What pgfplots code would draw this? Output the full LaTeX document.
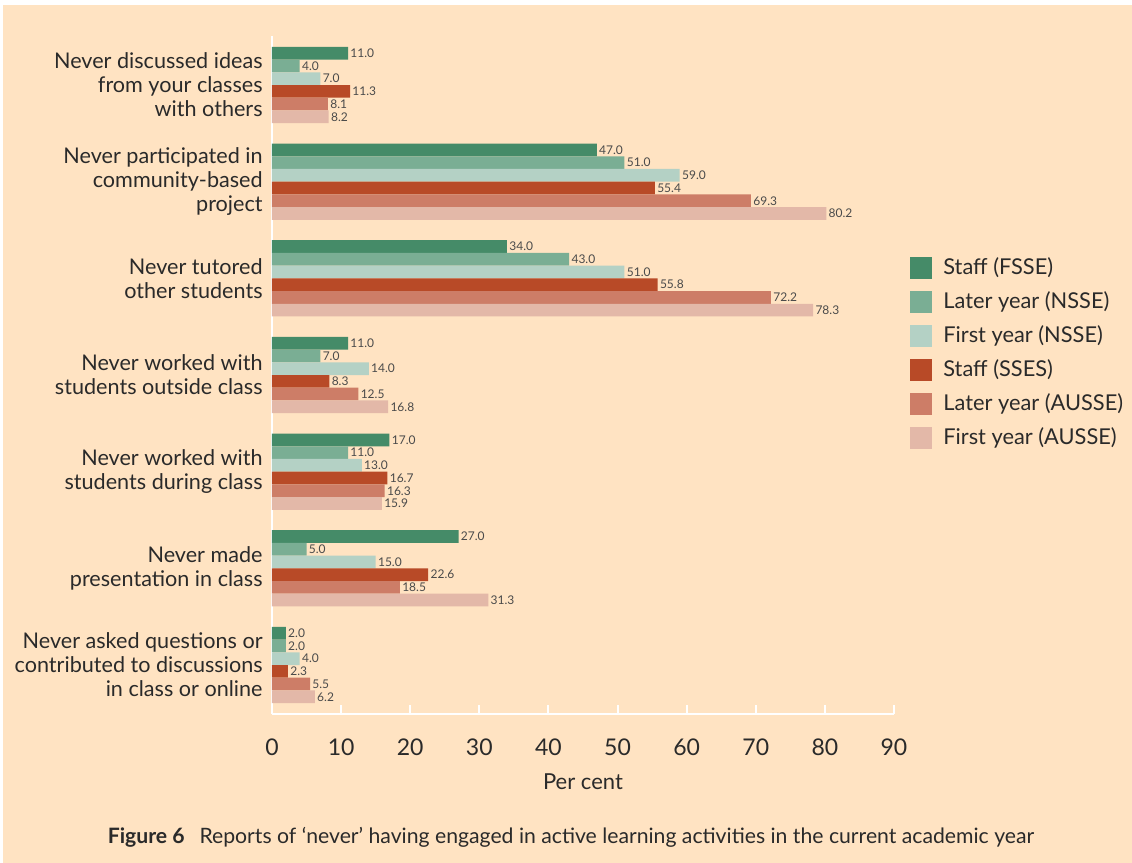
\documentclass[border=0pt]{standalone}
\usepackage{fontspec}
\setmainfont{Lato}
\usepackage{pgfplots}
\pgfplotsset{compat=1.18}
\definecolor{bg}{HTML}{FFE3C2}
\definecolor{cA}{HTML}{458B68}
\definecolor{cB}{HTML}{7AAE94}
\definecolor{cC}{HTML}{B4D1C5}
\definecolor{cD}{HTML}{B84A27}
\definecolor{cE}{HTML}{CD7D67}
\definecolor{cF}{HTML}{E3B8A8}
\definecolor{txt}{HTML}{2A2A2A}
\begin{document}
\begin{tikzpicture}
\fill[white] (0,0) rectangle (566pt,-431.5pt);
\fill[bg] (1.5pt,-2.5pt) rectangle (566pt,-431.5pt);
\begin{axis}[
  at={(136pt,-357pt)}, anchor=south west,
  scale only axis, width=311pt, height=339pt,
  xbar, bar width=0.1314,
  xmin=0, xmax=90, ymin=-0.507, ymax=6.507, y dir=reverse,
  axis x line*=bottom, axis y line*=left,
  axis line style={white, line width=1pt, -},
  xtick={0,10,...,90}, ytick={0,...,6},
  tick align=inside, major tick length=4.5pt,
  x tick style={white, line width=1pt},
  y tick style={draw=none},
  /pgf/number format/assume math mode=true,
  xticklabel style={anchor=center, yshift=-16.5pt, font=\fontsize{11.5}{13}\selectfont, text=txt},
  yticklabel style={align=right, font=\fontsize{10.8}{12}\selectfont, text=txt, inner sep=0pt, xshift=-4.5pt},
  yticklabels={{Never discussed ideas\\from your classes\\with others},
               {Never participated in\\community-based\\project},
               {Never tutored\\other students},
               {Never worked with\\students outside class},
               {Never worked with\\students during class},
               {Never made\\presentation in class},
               {Never asked questions or\\contributed to discussions\\in class or online}},
  xlabel={Per cent},
  xlabel style={at={(axis description cs:0.5,0)}, anchor=center, yshift=-34pt, font=\fontsize{11}{13}\selectfont, text=txt},
  nodes near coords,
  nodes near coords style={/pgf/number format/.cd, fixed, fixed zerofill, precision=1, /tikz/.cd},
  every node near coord/.append style={font=\fontsize{6}{7}\selectfont, text=txt!85, anchor=west, inner sep=1pt},
  legend style={at={(1.0257,0.675)}, anchor=north west, draw=none, fill=none, inner sep=0pt,
     row sep=6pt, column sep=5.5pt, font=\fontsize{10.9}{12}\selectfont, text=txt,
     nodes={inner sep=0pt}},
  legend cell align=left,
  legend image code/.code={\fill[#1] (0pt,-5.5pt) rectangle (11pt,5.5pt);},
]
\addplot[fill=cA, draw=none, bar shift=-0.3285] coordinates {(11.0,0) (47.0,1) (34.0,2) (11.0,3) (17.0,4) (27.0,5) (2.0,6)};
\addplot[fill=cB, draw=none, bar shift=-0.1971] coordinates {(4.0,0) (51.0,1) (43.0,2) (7.0,3) (11.0,4) (5.0,5) (2.0,6)};
\addplot[fill=cC, draw=none, bar shift=-0.0657] coordinates {(7.0,0) (59.0,1) (51.0,2) (14.0,3) (13.0,4) (15.0,5) (4.0,6)};
\addplot[fill=cD, draw=none, bar shift=0.0657] coordinates {(11.3,0) (55.4,1) (55.8,2) (8.3,3) (16.7,4) (22.6,5) (2.3,6)};
\addplot[fill=cE, draw=none, bar shift=0.1971] coordinates {(8.1,0) (69.3,1) (72.2,2) (12.5,3) (16.3,4) (18.5,5) (5.5,6)};
\addplot[fill=cF, draw=none, bar shift=0.3285] coordinates {(8.2,0) (80.2,1) (78.3,2) (16.8,3) (15.9,4) (31.3,5) (6.2,6)};
\legend{Staff (FSSE), Later year (NSSE), First year (NSSE), Staff (SSES), Later year (AUSSE), First year (AUSSE)}
\end{axis}
\node[anchor=base, font=\fontsize{10.6}{12}\selectfont, text=txt] at (285.5pt,-421.5pt)
  {\textbf{Figure 6}\hspace{0.7em}Reports of ‘never’ having engaged in active learning activities in the current academic year};
\end{tikzpicture}
\end{document}
